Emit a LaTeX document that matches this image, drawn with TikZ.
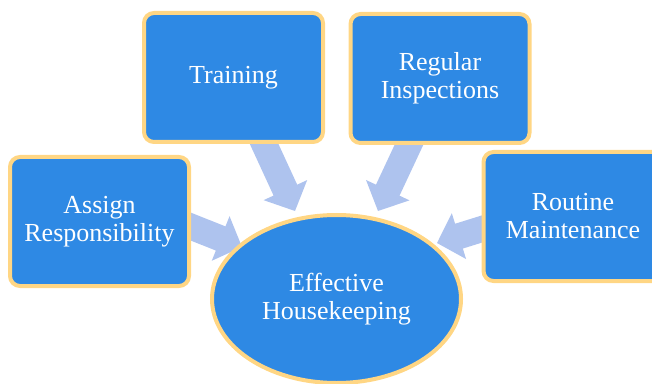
\documentclass[tikz,border=0pt]{standalone}
\usepackage{fontspec}
\setmainfont{Liberation Serif}
\usetikzlibrary{calc,shapes.geometric}

\definecolor{boxblue}{HTML}{2E89E4}
\definecolor{rimgold}{HTML}{FFD684}
\definecolor{arrowblue}{HTML}{AEC3EE}

% block arrow drawn as a polygon from tail #1 to tip #2
\newcommand\blkarrow[2]{%
  \fill[arrowblue]
    ($(#1)!13pt!90:(#2)$) --
    ($($(#2)!23pt!(#1)$)!13pt!-90:(#1)$) --
    ($($(#2)!23pt!(#1)$)!24pt!-90:(#1)$) --
    (#2) --
    ($($(#2)!23pt!(#1)$)!24pt!90:(#1)$) --
    ($($(#2)!23pt!(#1)$)!13pt!90:(#1)$) --
    ($(#1)!13pt!-90:(#2)$) -- cycle;}

\tikzset{
  topic/.style={rectangle, rounded corners=10pt, draw=rimgold, line width=4pt,
    fill=boxblue, minimum width=179pt, minimum height=129pt, inner sep=0pt,
    align=center, text=white, font=\fontsize{26}{28}\selectfont},
  hub/.style={ellipse, draw=rimgold, line width=4pt, fill=boxblue,
    minimum width=249pt, minimum height=168pt, inner sep=0pt,
    align=center, text=white, font=\fontsize{26}{28}\selectfont},
}

\begin{document}
\begin{tikzpicture}[x=1pt,y=1pt]
\clip (0,0) rectangle (652,383);

% arrow ends
\coordinate (tTrain) at (233.5,305.5);
\coordinate (pTrain) at (295,172);
\coordinate (tInsp) at (440,304.5);
\coordinate (pInsp) at (378,172);
\coordinate (tAssign) at (170,164.7);
\coordinate (pAssign) at (242,136);
\coordinate (tMaint) at (530,169);
\coordinate (pMaint) at (437,140);

\blkarrow{tTrain}{pTrain}
\blkarrow{tInsp}{pInsp}
\blkarrow{tAssign}{pAssign}
\blkarrow{tMaint}{pMaint}

\node[hub] (hk) at (336.5,84) {Effective\\Housekeeping};
\node[topic] (assign) at (99.5,161.5) {Assign\\Responsibility};
\node[topic] (train) at (233.5,305.5) {Training};
\node[topic] (insp) at (440,304.5) {Regular\\Inspections};
\node[topic] (maint) at (573,166.5) {Routine\\Maintenance};
\end{tikzpicture}
\end{document}
